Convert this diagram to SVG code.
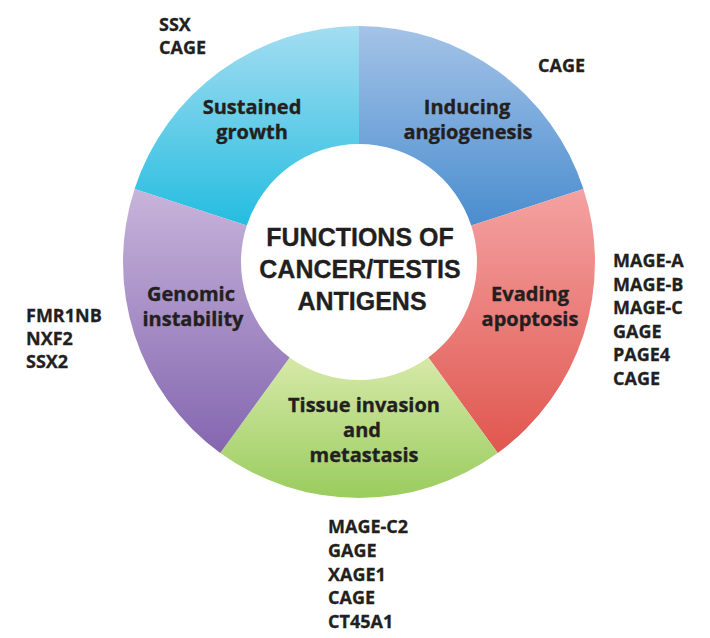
<svg xmlns="http://www.w3.org/2000/svg" width="710" height="638" viewBox="0 0 710 638">
<defs>
<linearGradient id="gCyan" x1="0" y1="0" x2="0" y2="1"><stop offset="0" stop-color="#a4ddf1"/><stop offset="1" stop-color="#24bde0"/></linearGradient>
<linearGradient id="gBlue" x1="0" y1="0" x2="0" y2="1"><stop offset="0" stop-color="#a4c3e7"/><stop offset="1" stop-color="#4a8dcf"/></linearGradient>
<linearGradient id="gRed" x1="0" y1="0" x2="0" y2="1"><stop offset="0" stop-color="#f4a2a2"/><stop offset="1" stop-color="#e0574f"/></linearGradient>
<linearGradient id="gGreen" x1="0" y1="0" x2="0" y2="1"><stop offset="0" stop-color="#d6e9a8"/><stop offset="1" stop-color="#9acc5e"/></linearGradient>
<linearGradient id="gPurple" x1="0" y1="0" x2="0" y2="1"><stop offset="0" stop-color="#c7b4da"/><stop offset="1" stop-color="#8466b0"/></linearGradient>
</defs>
<style>
.lbl{font-family:"Open Sans","Liberation Sans",sans-serif;font-weight:700;font-size:20px;fill:#231f20;stroke:#231f20;stroke-width:0.35px;text-anchor:middle}
.gene{font-family:"Open Sans","Liberation Sans",sans-serif;font-weight:700;font-size:18px;fill:#231f20;stroke:#231f20;stroke-width:0.3px}
.ctr{font-family:"Liberation Sans",sans-serif;font-weight:bold;font-size:25px;fill:#231f20;stroke:#231f20;stroke-width:0.3px;text-anchor:middle}
</style>
<rect width="710" height="638" fill="#ffffff"/>
<g id="sustained-growth">
<path d="M134.55,189.07 A236,236 0 0 1 359,26 L359,144 A118,118 0 0 0 246.78,225.54 Z" fill="url(#gCyan)"/>
<text class="lbl" x="252" y="114">Sustained</text>
<text class="lbl" x="252" y="139">growth</text>
</g>
<g id="inducing-angiogenesis">
<path d="M359,26 A236,236 0 0 1 583.45,189.07 L471.22,225.54 A118,118 0 0 0 359,144 Z" fill="url(#gBlue)"/>
<text class="lbl" x="467" y="114">Inducing</text>
<text class="lbl" x="468" y="139">angiogenesis</text>
</g>
<g id="evading-apoptosis">
<path d="M583.45,189.07 A236,236 0 0 1 497.72,452.93 L428.36,357.46 A118,118 0 0 0 471.22,225.54 Z" fill="url(#gRed)"/>
<text class="lbl" x="530" y="301">Evading</text>
<text class="lbl" x="530" y="326">apoptosis</text>
</g>
<g id="tissue-invasion">
<path d="M497.72,452.93 A236,236 0 0 1 220.28,452.93 L289.64,357.46 A118,118 0 0 0 428.36,357.46 Z" fill="url(#gGreen)"/>
<text class="lbl" x="364" y="412">Tissue invasion</text>
<text class="lbl" x="362" y="437">and</text>
<text class="lbl" x="364" y="462">metastasis</text>
</g>
<g id="genomic-instability">
<path d="M220.28,452.93 A236,236 0 0 1 134.55,189.07 L246.78,225.54 A118,118 0 0 0 289.64,357.46 Z" fill="url(#gPurple)"/>
<text class="lbl" x="191" y="301">Genomic</text>
<text class="lbl" x="193" y="326">instability</text>
</g>
<g id="center">
<text class="ctr" x="360" y="246">FUNCTIONS OF</text>
<text class="ctr" x="360" y="278">CANCER/TESTIS</text>
<text class="ctr" x="362" y="310">ANTIGENS</text>
</g>
<g id="genes-sustained">
<text class="gene" x="159" y="31">SSX</text>
<text class="gene" x="159" y="54">CAGE</text>
</g>
<g id="genes-angiogenesis">
<text class="gene" x="538" y="72">CAGE</text>
</g>
<g id="genes-apoptosis">
<text class="gene" x="613" y="267">MAGE-A</text>
<text class="gene" x="613" y="291">MAGE-B</text>
<text class="gene" x="613" y="314">MAGE-C</text>
<text class="gene" x="613" y="338">GAGE</text>
<text class="gene" x="613" y="361">PAGE4</text>
<text class="gene" x="613" y="385">CAGE</text>
</g>
<g id="genes-genomic">
<text class="gene" x="26" y="322">FMR1NB</text>
<text class="gene" x="26" y="345">NXF2</text>
<text class="gene" x="26" y="368">SSX2</text>
</g>
<g id="genes-invasion">
<text class="gene" x="328" y="533">MAGE-C2</text>
<text class="gene" x="328" y="557">GAGE</text>
<text class="gene" x="328" y="581">XAGE1</text>
<text class="gene" x="328" y="604">CAGE</text>
<text class="gene" x="328" y="628">CT45A1</text>
</g>
<g id="connectors"></g>
</svg>
